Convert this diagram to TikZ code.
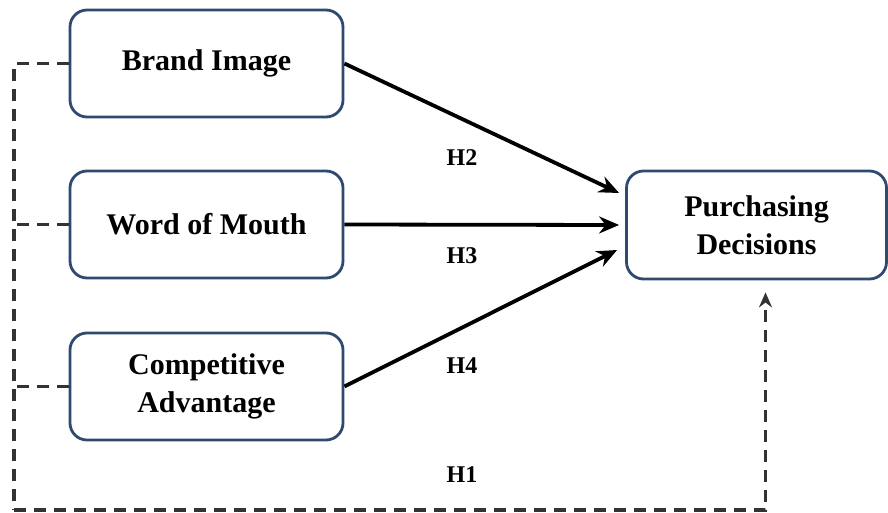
\documentclass[tikz,border=0pt]{standalone}
\usepackage{fontspec}
\setmainfont{Liberation Serif}
\usetikzlibrary{arrows.meta}
\definecolor{boxline}{HTML}{2E4A70}
\definecolor{dashgray}{HTML}{333333}
\tikzset{
  varbox/.style={draw=boxline, line width=2.8pt, rounded corners=17pt, fill=white,
    minimum width=273pt, minimum height=107pt, align=center,
    font=\fontsize{30}{38}\selectfont\bfseries},
  effect/.style={line width=3.8pt, -{Stealth[length=20pt, width=17pt]}},
  dashpath/.style={draw=dashgray, line width=3.3pt, dash pattern=on 12pt off 8pt},
  hlabel/.style={font=\fontsize{24}{26}\selectfont\bfseries}
}
\begin{document}
\begin{tikzpicture}[x=1pt, y=-1pt]
\useasboundingbox (0,0) rectangle (888,513);
% variables
\node[varbox] (bi) at (206.5,63.5) {Brand Image};
\node[varbox] (wom) at (206.5,224.5) {Word of Mouth};
\node[varbox] (ca) at (206.5,386.5) {Competitive\\Advantage};
\node[varbox, minimum width=260pt, minimum height=108pt] (pd) at (756.5,225) {Purchasing\\Decisions};
% direct paths
\draw[effect] (bi.east) -- ([xshift=-6pt, yshift=32pt]pd.west);
\draw[effect] (wom.east) -- ([xshift=-6pt]pd.west);
\draw[effect] (ca.east) -- ([xshift=-8pt, yshift=-25pt]pd.west);
\node[hlabel] (h2) at (462,158) {H2};
\node[hlabel] (h3) at (462,256) {H3};
\node[hlabel] (h4) at (462,366) {H4};
% simultaneous path
\coordinate (corner) at (14,510);
\draw[dashpath] (bi.west) -| (corner);
\draw[dashpath] (wom.west) -- (14,224.5);
\draw[dashpath] (ca.west) -- (14,386.5);
\draw[dashpath, -{Stealth[length=15pt, width=13pt]}] (corner) -| ([xshift=9pt, yshift=-12pt]pd.south);
\node[hlabel] (h1) at (462,475) {H1};
\end{tikzpicture}
\end{document}
